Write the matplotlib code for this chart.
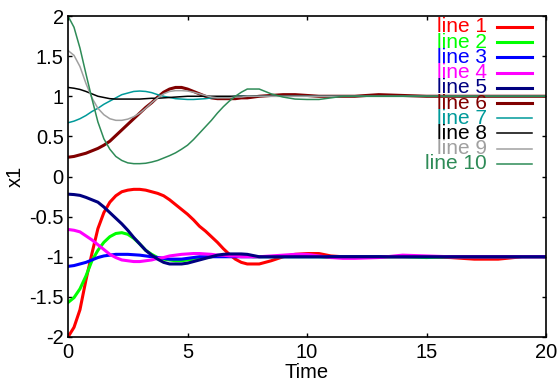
import numpy as np
import matplotlib
matplotlib.use("Agg")
import matplotlib.pyplot as plt

# time grid: quarter steps while the curves move, coarser later
t = [0, 0.25, 0.5, 0.75, 1, 1.25, 1.5, 1.75, 2, 2.25, 2.5, 2.75, 3, 3.25, 3.5, 3.75,
     4, 4.25, 4.5, 4.75, 5, 5.25, 5.5, 5.75, 6, 6.25, 6.5, 6.75, 7, 7.25, 7.5, 7.75,
     8, 8.5, 9, 9.5, 10, 10.5, 11, 11.5, 12, 13, 14, 15, 16, 17, 18, 19, 20]

line1 = [-2.0, -1.88, -1.66, -1.29, -0.96, -0.65, -0.45, -0.32, -0.24, -0.19, -0.17, -0.16,
         -0.16, -0.17, -0.19, -0.21, -0.24, -0.29, -0.35, -0.41, -0.47, -0.54, -0.62, -0.68,
         -0.75, -0.82, -0.90, -0.97, -1.03, -1.07, -1.09, -1.09,
         -1.09, -1.05, -1.0, -0.97, -0.96, -0.96, -0.99, -1.0, -1.0,
         -1.0, -1.0, -1.0, -1.01, -1.03, -1.03, -1.0, -1.0]
line2 = [-1.57, -1.51, -1.40, -1.24, -1.05, -0.92, -0.82, -0.75, -0.71, -0.70, -0.72, -0.77,
         -0.84, -0.92, -0.97, -1.01, -1.03, -1.04, -1.05, -1.05, -1.04, -1.03, -1.02, -1.01,
         -1.0, -0.99, -0.99, -0.98, -0.98, -0.99, -0.99, -1.0,
         -1.0, -1.0, -1.0, -1.0, -1.0, -1.0, -1.01, -1.0, -1.0,
         -1.0, -1.0, -1.01, -1.0, -1.0, -1.0, -1.0, -1.0]
line3 = [-1.12, -1.11, -1.09, -1.07, -1.04, -1.01, -0.99, -0.98, -0.97, -0.97, -0.97, -0.975,
         -0.98, -0.99, -1.0, -1.01, -1.02, -1.03, -1.03, -1.03, -1.02, -1.01, -1.0, -1.0,
         -1.0, -1.0, -1.0, -1.0, -1.0, -1.0, -1.0, -1.0,
         -1.0, -1.0, -1.0, -1.0, -1.0, -1.0, -1.0, -1.0, -1.0,
         -1.0, -1.0, -1.0, -1.0, -1.0, -1.0, -1.0, -1.0]
line4 = [-0.66, -0.67, -0.69, -0.74, -0.79, -0.85, -0.91, -0.97, -1.01, -1.04, -1.05, -1.06,
         -1.06, -1.05, -1.04, -1.02, -1.01, -0.99, -0.98, -0.97, -0.965, -0.96, -0.96, -0.965,
         -0.97, -0.98, -0.98, -0.99, -0.99, -1.0, -1.0, -1.0,
         -1.0, -0.99, -0.98, -0.97, -0.97, -0.99, -1.01, -1.02, -1.02,
         -1.01, -0.98, -0.99, -1.0, -1.0, -1.0, -1.0, -1.0]
line5 = [-0.22, -0.225, -0.235, -0.26, -0.29, -0.32, -0.38, -0.45, -0.52, -0.59, -0.67, -0.76,
         -0.84, -0.92, -0.98, -1.03, -1.07, -1.09, -1.09, -1.09, -1.08, -1.06, -1.04, -1.02,
         -1.0, -0.98, -0.97, -0.965, -0.965, -0.965, -0.97, -0.985,
         -1.0, -1.0, -1.0, -1.0, -1.0, -1.0, -1.0, -1.0, -1.0,
         -1.0, -1.0, -1.0, -1.0, -1.0, -1.0, -1.0, -1.0]
line6 = [0.24, 0.25, 0.27, 0.29, 0.32, 0.35, 0.39, 0.44, 0.51, 0.58, 0.65, 0.72,
         0.79, 0.86, 0.92, 0.99, 1.05, 1.09, 1.11, 1.11, 1.09, 1.06, 1.03, 1.0,
         0.98, 0.97, 0.97, 0.97, 0.97, 0.98, 0.98, 0.99,
         1.0, 1.01, 1.02, 1.02, 1.01, 1.0, 1.0, 1.0, 1.0,
         1.02, 1.01, 1.0, 1.0, 1.0, 1.0, 1.0, 1.0]
line7 = [0.67, 0.69, 0.72, 0.76, 0.81, 0.85, 0.90, 0.94, 0.98, 1.02, 1.04, 1.06,
         1.065, 1.06, 1.045, 1.02, 1.0, 0.985, 0.97, 0.965, 0.96, 0.96, 0.965, 0.97,
         0.98, 0.985, 0.99, 0.99, 1.0, 1.0, 1.0, 1.0,
         1.0, 1.0, 1.0, 1.0, 1.0, 1.0, 1.0, 1.0, 1.0,
         1.0, 1.0, 1.0, 1.0, 1.0, 1.0, 1.0, 1.0]
line8 = [1.11, 1.10, 1.085, 1.06, 1.03, 1.0, 0.985, 0.97, 0.965, 0.965, 0.965, 0.965,
         0.965, 0.97, 0.975, 0.975, 0.98, 0.985, 0.99, 0.995, 1.0, 1.0, 1.0, 1.0,
         1.0, 1.0, 1.0, 1.0, 1.0, 1.0, 1.0, 1.0,
         1.0, 1.0, 1.0, 1.0, 1.0, 1.0, 1.0, 1.0, 1.0,
         1.0, 1.0, 1.0, 1.0, 1.0, 1.0, 1.0, 1.0]
line9 = [1.57, 1.51, 1.37, 1.16, 0.98, 0.85, 0.77, 0.72, 0.70, 0.70, 0.715, 0.745,
         0.79, 0.85, 0.92, 0.98, 1.03, 1.06, 1.07, 1.07, 1.065, 1.05, 1.03, 1.01,
         0.99, 0.98, 0.98, 0.98, 0.99, 0.99, 1.0, 1.0,
         1.0, 1.0, 1.0, 1.0, 1.0, 1.0, 1.0, 1.0, 1.0,
         1.0, 1.0, 1.0, 1.0, 1.0, 1.0, 1.0, 1.0]
line10 = [2.0, 1.86, 1.60, 1.28, 0.97, 0.68, 0.47, 0.34, 0.25, 0.20, 0.17, 0.16,
          0.16, 0.165, 0.18, 0.20, 0.23, 0.26, 0.295, 0.34, 0.39, 0.46, 0.54, 0.62,
          0.70, 0.79, 0.87, 0.94, 1.0, 1.05, 1.09, 1.09,
          1.09, 1.03, 0.99, 0.965, 0.96, 0.96, 0.98, 1.0, 1.0,
          1.0, 1.0, 1.0, 1.0, 1.0, 1.0, 1.0, 1.0]

series = [line1, line2, line3, line4, line5, line6, line7, line8, line9, line10]
labels = ["line %d" % (i + 1) for i in range(10)]
colors = ["#ff0000", "#00ff00", "#0000ff", "#ff00ff", "#000080",
          "#800000", "#009a9a", "#000000", "#a0a0a0", "#2e8b57"]
widths = [2.2, 2.2, 2.2, 2.2, 2.2, 2.2, 1.1, 1.1, 1.1, 1.1]

plt.rcParams["font.family"] = ["Liberation Sans", "DejaVu Sans"]

fig = plt.figure(figsize=(5.58, 3.85), dpi=100)
ax = fig.add_axes([0.1219, 0.1247, 0.8566, 0.8337])

for y, c, lw in zip(series, colors, widths):
    ax.plot(t, y, color=c, linewidth=lw)

ax.set_xlim(0, 20)
ax.set_ylim(-2, 2)
ax.set_xticks([0, 5, 10, 15, 20])
ax.set_yticks(np.arange(-2, 2.01, 0.5))
ax.set_yticklabels(["-2", "-1.5", "-1", "-0.5", "0", "0.5", "1", "1.5", "2"])
ax.tick_params(direction="in", length=3, width=1, top=True, right=True,
               labelsize=14.5, colors="black")
ax.tick_params(axis="x", pad=4)
ax.tick_params(axis="y", pad=3)
for s in ax.spines.values():
    s.set_linewidth(1.2)
ax.set_xlabel("Time", fontsize=14.5, labelpad=1)
ax.set_ylabel("x1", fontsize=14.5, labelpad=3)

# gnuplot-style key: coloured right-aligned text, sample line after it
y0 = 0.966
dy = 0.0474
for i, (lab, c, lw) in enumerate(zip(labels, colors, widths)):
    yy = y0 - i * dy
    ax.text(0.877, yy, lab, color=c, fontsize=15, ha="right", va="center",
            transform=ax.transAxes)
    ax.plot([0.8975, 0.9707], [yy, yy], color=c, linewidth=lw,
            transform=ax.transAxes, clip_on=False)

fig.savefig("out.png", dpi=100)
